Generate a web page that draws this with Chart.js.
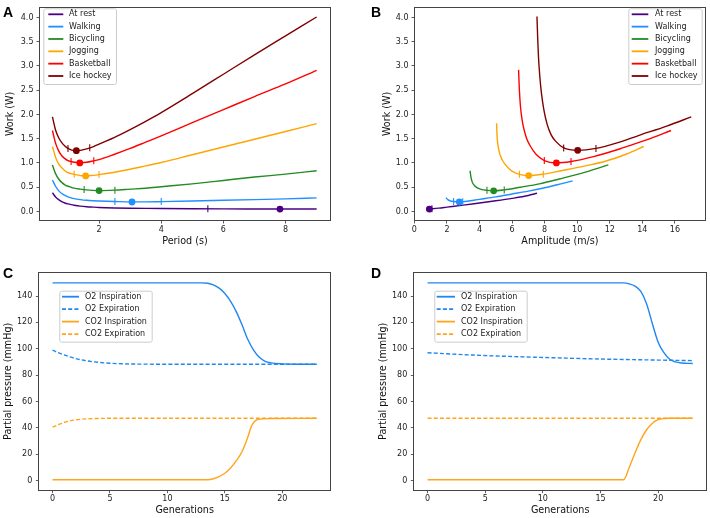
<!DOCTYPE html>
<html>
<head>
<meta charset="utf-8">
<script src="https://cdn.jsdelivr.net/npm/chart.js@4.4.0/dist/chart.umd.min.js"></script>
<style>
  body { margin: 0; background: #fff; width: 710px; height: 518px; position: relative; overflow: hidden; }
  .panel { position: absolute; width: 355px; height: 259px; }
  .letter { position: absolute; font: bold 14px "Liberation Sans", Arial, sans-serif; line-height: 14px; color: #000; }
</style>
</head>
<body>
<div class="panel" style="left:0;top:0"><canvas id="chartA" width="355" height="259"></canvas></div>
<div class="panel" style="left:355px;top:0"><canvas id="chartB" width="355" height="259"></canvas></div>
<div class="panel" style="left:0;top:259px"><canvas id="chartC" width="355" height="259"></canvas></div>
<div class="panel" style="left:355px;top:259px"><canvas id="chartD" width="355" height="259"></canvas></div>
<div class="letter" style="left:3px;top:5px">A</div>
<div class="letter" style="left:371px;top:5px">B</div>
<div class="letter" style="left:3px;top:266px">C</div>
<div class="letter" style="left:371px;top:266px">D</div>
<script>
// Actividades (paneles A y B)
const activityNames = ['At rest', 'Walking', 'Bicycling', 'Jogging', 'Basketball', 'Ice hockey'];
const activityColors = ['#4b0082', '#1e90ff', '#228b22', '#ffa500', '#ff0000', '#800000'];

// Panel A: trabajo frente a periodo
const periodGrid = [0.5, 0.6, 0.7, 0.8, 0.9, 1.0, 1.1, 1.2, 1.4, 1.6, 1.8, 2.0, 2.5, 3, 3.5, 4, 5, 6, 7, 8, 9];
const workRestA = [0.385, 0.30, 0.245, 0.205, 0.175, 0.155, 0.14, 0.128, 0.11, 0.098, 0.09, 0.083, 0.073, 0.067, 0.063, 0.06, 0.056, 0.053, 0.052, 0.051, 0.051];
const workWalkA = [0.65, 0.52, 0.43, 0.37, 0.33, 0.30, 0.28, 0.265, 0.245, 0.23, 0.22, 0.215, 0.205, 0.197, 0.198, 0.203, 0.215, 0.23, 0.245, 0.26, 0.28];
const workBikeA = [0.96, 0.78, 0.67, 0.60, 0.55, 0.52, 0.50, 0.48, 0.46, 0.445, 0.435, 0.43, 0.44, 0.46, 0.48, 0.51, 0.57, 0.64, 0.71, 0.77, 0.84];
const workJogA = [1.34, 1.12, 0.98, 0.90, 0.84, 0.80, 0.78, 0.765, 0.74, 0.735, 0.745, 0.76, 0.81, 0.87, 0.94, 1.01, 1.17, 1.33, 1.49, 1.65, 1.81];
const workBallA = [1.67, 1.41, 1.25, 1.15, 1.09, 1.05, 1.03, 1.015, 1.005, 1.015, 1.04, 1.07, 1.18, 1.30, 1.43, 1.56, 1.83, 2.10, 2.37, 2.63, 2.91];
const workHockeyA = [1.95, 1.68, 1.52, 1.42, 1.35, 1.30, 1.27, 1.255, 1.26, 1.29, 1.33, 1.39, 1.53, 1.69, 1.86, 2.04, 2.43, 2.83, 3.23, 3.62, 4.01];
const optPeriodA = [7.82, 3.06, 2.0, 1.57, 1.38, 1.27];
const optWorkA = [0.05, 0.195, 0.43, 0.733, 1.0, 1.253];
const tickPeriodA = [[5.5], [2.51, 4.0], [1.52, 2.51], [1.2, 2.0], [1.1, 1.83], [1.0, 1.7]];
const tickWorkA = [[0.054], [0.205, 0.203], [0.455, 0.44], [0.765, 0.76], [1.03, 1.045], [1.30, 1.315]];

// Panel B: trabajo frente a amplitud
const ampRest = [0.88, 1.5, 2, 3, 4, 5, 6, 7, 7.53];
const workRestB = [0.05, 0.07, 0.09, 0.13, 0.175, 0.22, 0.27, 0.33, 0.375];
const ampWalk = [1.94, 2.05, 2.2, 2.41, 2.76, 2.97, 4, 5, 6, 7, 8, 9, 9.72];
const workWalkB = [0.285, 0.245, 0.22, 0.205, 0.195, 0.198, 0.25, 0.30, 0.36, 0.42, 0.49, 0.57, 0.63];
const ampBike = [3.42, 3.47, 3.55, 3.7, 3.9, 4.15, 4.46, 4.87, 5.52, 6.5, 7.67, 8.9, 10.5, 11.91];
const workBikeB = [0.84, 0.72, 0.61, 0.53, 0.48, 0.45, 0.435, 0.425, 0.445, 0.50, 0.57, 0.67, 0.81, 0.96];
const ampJog = [5.05, 5.08, 5.13, 5.22, 5.4, 5.6, 5.85, 6.1, 6.45, 7.02, 7.92, 9.0, 10.5, 11.77, 13.0, 14.08];
const workJogB = [1.82, 1.55, 1.38, 1.22, 1.06, 0.96, 0.87, 0.81, 0.765, 0.74, 0.77, 0.84, 0.94, 1.04, 1.18, 1.34];
const ampBall = [6.4, 6.45, 6.52, 6.62, 6.75, 6.9, 7.1, 7.47, 7.98, 8.72, 9.62, 11.0, 12.79, 14.3, 15.76];
const workBallB = [2.92, 2.5, 2.15, 1.88, 1.67, 1.50, 1.36, 1.18, 1.05, 1.0, 1.03, 1.13, 1.31, 1.48, 1.67];
const ampHockey = [7.53, 7.57, 7.62, 7.7, 7.8, 7.95, 8.15, 8.4, 8.7, 9.17, 10.03, 11.15, 12.5, 13.8, 15.5, 17.0];
const workHockeyB = [4.02, 3.6, 3.2, 2.8, 2.45, 2.1, 1.8, 1.58, 1.44, 1.31, 1.26, 1.30, 1.42, 1.57, 1.76, 1.95];
const optAmpB = [0.92, 2.76, 4.87, 7.02, 8.72, 10.03];
const optWorkB = [0.05, 0.195, 0.425, 0.74, 1.0, 1.26];
const tickAmpB = [[1.08], [2.41, 2.97], [4.46, 5.52], [6.45, 7.92], [7.98, 9.62], [9.17, 11.15]];
const tickWorkB = [[0.055], [0.205, 0.198], [0.435, 0.445], [0.765, 0.77], [1.05, 1.03], [1.31, 1.30]];

// Paneles C y D: presiones parciales por generacion
const gasNames = ['O2 Inspiration', 'O2 Expiration', 'CO2 Inspiration', 'CO2 Expiration'];
const genO2InC = [0, 13, 13.5, 14, 14.5, 15, 15.5, 16, 16.5, 17, 17.5, 18, 18.5, 19, 20, 21, 23];
const o2InC = [150, 150, 149.7, 148.5, 146, 142, 136, 128, 118, 107, 99, 93.5, 90.5, 89.3, 88.5, 88.2, 88.2];
const genO2ExC = [0, 0.5, 1, 1.5, 2, 3, 4, 5, 6, 7, 8, 23];
const o2ExC = [99, 97, 95.3, 93.9, 92.6, 90.8, 89.7, 89.0, 88.6, 88.4, 88.3, 88.2];
const genCo2InC = [0, 13.5, 14, 14.5, 15, 15.5, 16, 16.5, 17, 17.3, 17.6, 18, 19, 23];
const co2InC = [0.5, 0.6, 1.3, 3, 5.5, 9.5, 15, 22, 33, 41, 45, 46.6, 47, 47.2];
const genCo2ExC = [0, 0.5, 1, 1.5, 2, 3, 4, 5, 23];
const co2ExC = [40.5, 42.3, 44, 45.2, 46, 46.8, 47.1, 47.2, 47.2];

const genO2InD = [0, 17, 17.5, 18, 18.5, 19, 19.5, 20, 20.5, 21, 21.5, 22, 23];
const o2InD = [150, 150, 149.3, 147.5, 143.5, 134, 119, 105, 97, 92, 90, 89.2, 88.8];
const genO2ExD = [0, 2, 4, 6, 8, 10, 12, 14, 16, 18, 20, 23];
const o2ExD = [97, 96, 95.2, 94.5, 93.9, 93.4, 92.9, 92.4, 92, 91.7, 91.4, 91];
const genCo2InD = [0, 17, 17.5, 18, 18.5, 19, 19.5, 20, 20.5, 21, 23];
const co2InD = [0.5, 0.5, 10, 21, 31, 38.5, 43.5, 46.2, 47, 47.2, 47.2];
const genCo2ExD = [0, 23];
const co2ExD = [47.2, 47.2];

// Marcas de los ejes
const ticksPeriod = [2, 4, 6, 8];
const ticksAmp = [0, 2, 4, 6, 8, 10, 12, 14, 16];
const ticksWork = [0, 0.5, 1, 1.5, 2, 2.5, 3, 3.5, 4];
const ticksGen = [0, 5, 10, 15, 20];
const ticksPressure = [0, 20, 40, 60, 80, 100, 120, 140];

const O2_COLOR = '#1e88f0';
const CO2_COLOR = '#ffa41b';
const FONT = '"DejaVu Sans"';

Chart.defaults.font.family = FONT;

function pairs(xs, ys) {
    return xs.map((x, i) => ({ x: x, y: ys[i] }));
}

function curve(label, xs, ys, color, dash) {
    return {
        label: label, data: pairs(xs, ys), showLine: true, inLegend: true,
        borderColor: color, backgroundColor: color, borderWidth: 1.4,
        borderDash: dash || [], pointRadius: 0, cubicInterpolationMode: 'monotone', order: 2
    };
}

function dots(xs, ys, color) {
    return {
        data: pairs(xs, ys), showLine: false, pointStyle: 'circle', pointRadius: 3.4,
        pointBackgroundColor: color, pointBorderWidth: 0, order: 0
    };
}

function bars(xs, ys, color) {
    return {
        data: pairs(xs, ys), showLine: false, pointStyle: 'line', rotation: 90, pointRadius: 3.5,
        pointBorderColor: color, pointBorderWidth: 1.1, order: 1
    };
}

// Marco completo alrededor del area del grafico
const framePlugin = {
    id: 'frame',
    afterDatasetsDraw(chart) {
        const { ctx, chartArea: a } = chart;
        ctx.save();
        ctx.strokeStyle = '#444';
        ctx.lineWidth = 1;
        const l = Math.round(a.left) - 0.5, t = Math.round(a.top) - 0.5;
        ctx.strokeRect(l, t, Math.round(a.right) - Math.round(a.left) + 1, Math.round(a.bottom) - Math.round(a.top) + 1);
        ctx.restore();
    }
};

// Leyenda dentro del grafico, al estilo de matplotlib
const boxLegend = {
    id: 'boxLegend',
    afterDraw(chart, args, o) {
        if (!o || !o.box) return;
        const ctx = chart.ctx;
        const items = chart.data.datasets.filter(d => d.inLegend);
        const [x0, y0, x1, y1] = o.box;
        ctx.save();
        ctx.beginPath();
        ctx.roundRect(x0 + 0.5, y0 + 0.5, x1 - x0, y1 - y0, 2);
        ctx.fillStyle = 'rgba(255,255,255,0.8)';
        ctx.fill();
        ctx.strokeStyle = '#cccccc';
        ctx.lineWidth = 1;
        ctx.stroke();
        ctx.font = '8px ' + FONT;
        ctx.textBaseline = 'middle';
        items.forEach((d, i) => {
            const y = o.firstRow + i * o.rowGap;
            ctx.beginPath();
            ctx.setLineDash(d.borderDash || []);
            ctx.strokeStyle = d.borderColor;
            ctx.lineWidth = 1.8;
            ctx.moveTo(o.sample[0], y);
            ctx.lineTo(o.sample[1], y);
            ctx.stroke();
            ctx.setLineDash([]);
            ctx.fillStyle = '#222';
            ctx.fillText(d.label, o.textX, y);
        });
        ctx.restore();
    }
};

function axis(c) {
    return {
        type: 'linear', min: c.min, max: c.max,
        afterFit: s => { if (s.isHorizontal()) s.height = c.size; else s.width = c.size; },
        afterBuildTicks: s => { s.ticks = c.ticks.map(v => ({ value: v })); },
        grid: { drawOnChartArea: false, drawTicks: true, tickLength: 3.5, color: '#333', lineWidth: 0.8 },
        border: { display: false },
        ticks: {
            autoSkip: false, maxRotation: 0, padding: c.pad, color: '#222',
            font: { size: 8 }, callback: c.fmt || (v => String(v))
        },
        title: { display: true, text: c.title, color: '#111', font: { size: 9.6 }, padding: c.titlePad }
    };
}

function makeChart(id, datasets, layout, xAxis, yAxis, legend) {
    return new Chart(document.getElementById(id), {
        type: 'scatter',
        data: { datasets: datasets },
        options: {
            responsive: false, animation: false, devicePixelRatio: 1, events: [],
            layout: { padding: layout },
            scales: { x: axis(xAxis), y: axis(yAxis) },
            plugins: { legend: { display: false }, tooltip: { enabled: false }, boxLegend: legend }
        },
        plugins: [framePlugin, boxLegend]
    });
}

const oneDecimal = v => v.toFixed(1);

// Panel A
const curvesA = [workRestA, workWalkA, workBikeA, workJogA, workBallA, workHockeyA];
const dsA = curvesA.map((w, i) => curve(activityNames[i], periodGrid, w, activityColors[i]));
activityColors.forEach((col, i) => {
    dsA.push(bars(tickPeriodA[i], tickWorkA[i], col));
    dsA.push(dots([optPeriodA[i]], [optWorkA[i]], col));
});
makeChart('chartA', dsA, { left: 0, top: 4, right: 25, bottom: 0 },
    { min: 0.1, max: 9.43, size: 39, ticks: ticksPeriod, pad: 1.7, title: 'Period (s)', titlePad: { top: 0, bottom: 11.5 } },
    { min: -0.176, max: 4.2, size: 40, ticks: ticksWork, pad: 3, fmt: oneDecimal, title: 'Work (W)', titlePad: { top: 5, bottom: 0 } },
    { box: [43.3, 8.3, 116, 84], firstRow: 14.3, rowGap: 12.34, sample: [48.3, 63.3], textX: 69 });

// Panel B
const ampsB = [ampRest, ampWalk, ampBike, ampJog, ampBall, ampHockey];
const worksB = [workRestB, workWalkB, workBikeB, workJogB, workBallB, workHockeyB];
const dsB = ampsB.map((a, i) => curve(activityNames[i], a, worksB[i], activityColors[i]));
activityColors.forEach((col, i) => {
    dsB.push(bars(tickAmpB[i], tickWorkB[i], col));
    dsB.push(dots([optAmpB[i]], [optWorkB[i]], col));
});
makeChart('chartB', dsB, { left: 21, top: 4, right: 4, bottom: 0 },
    { min: 0.04, max: 17.84, size: 39, ticks: ticksAmp, pad: 1.7, title: 'Amplitude (m/s)', titlePad: { top: 0, bottom: 11.5 } },
    { min: -0.176, max: 4.2, size: 39, ticks: ticksWork, pad: 3, fmt: oneDecimal, title: 'Work (W)', titlePad: { top: 5.7, bottom: 0 } },
    { box: [273.3, 8.3, 346.7, 84], firstRow: 14.3, rowGap: 12.34, sample: [276.7, 293.3], textX: 300 });

// Panel C
const dsC = [
    curve(gasNames[0], genO2InC, o2InC, O2_COLOR),
    curve(gasNames[1], genO2ExC, o2ExC, O2_COLOR, [4, 2.2]),
    curve(gasNames[2], genCo2InC, co2InC, CO2_COLOR),
    curve(gasNames[3], genCo2ExC, co2ExC, CO2_COLOR, [4, 2.2])
];
makeChart('chartC', dsC, { left: 0, top: 14, right: 25, bottom: 0 },
    { min: -1.15, max: 24.15, size: 28.3, ticks: ticksGen, pad: 1.2, title: 'Generations', titlePad: { top: 0, bottom: 1.5 } },
    { min: -7.0, max: 157.5, size: 39.3, ticks: ticksPressure, pad: 3.5, title: 'Partial pressure (mmHg)', titlePad: { top: 2.5, bottom: 0 } },
    { box: [59.3, 31.7, 151.7, 82.7], firstRow: 37.7, rowGap: 12.45, sample: [62, 79], textX: 85 });

// Panel D
const dsD = [
    curve(gasNames[0], genO2InD, o2InD, O2_COLOR),
    curve(gasNames[1], genO2ExD, o2ExD, O2_COLOR, [4, 2.2]),
    curve(gasNames[2], genCo2InD, co2InD, CO2_COLOR),
    curve(gasNames[3], genCo2ExD, co2ExD, CO2_COLOR, [4, 2.2])
];
makeChart('chartD', dsD, { left: 20, top: 14, right: 4, bottom: 0 },
    { min: -1.15, max: 24.15, size: 28.3, ticks: ticksGen, pad: 1.2, title: 'Generations', titlePad: { top: 0, bottom: 1.5 } },
    { min: -7.0, max: 157.5, size: 39.3, ticks: ticksPressure, pad: 3.5, title: 'Partial pressure (mmHg)', titlePad: { top: 2.9, bottom: 0 } },
    { box: [79.3, 31.7, 171.7, 82.7], firstRow: 37.7, rowGap: 12.45, sample: [81.7, 100], textX: 106 });
</script>
</body>
</html>
